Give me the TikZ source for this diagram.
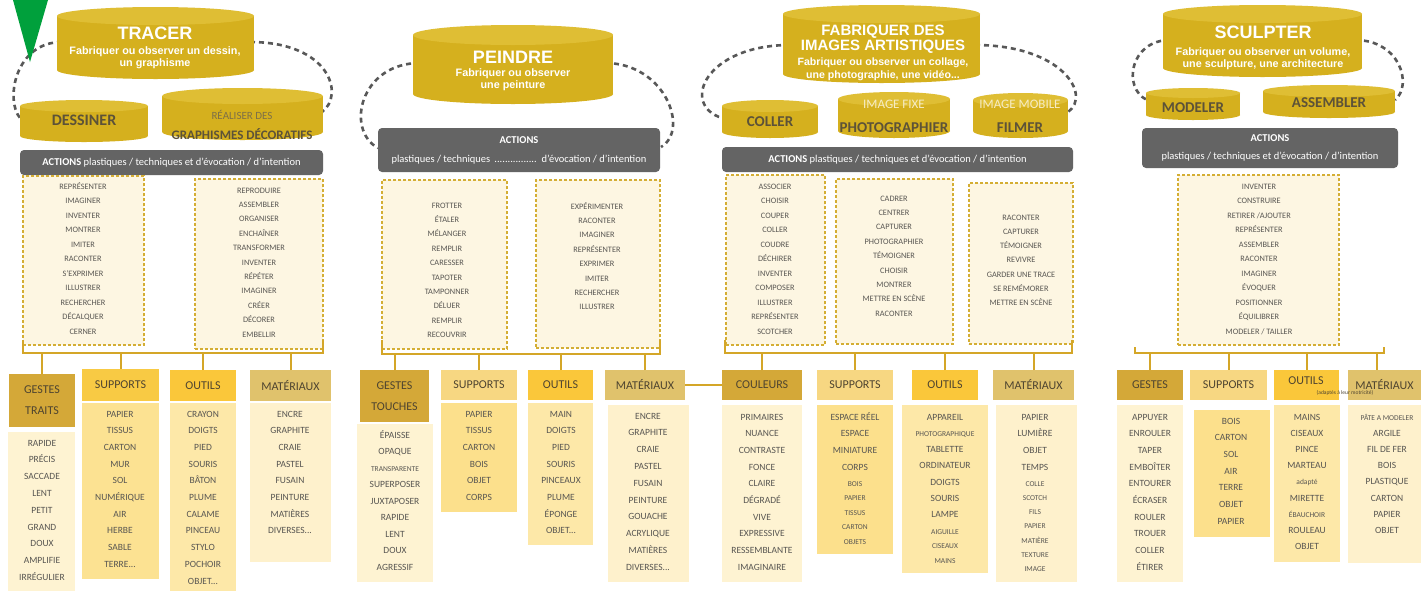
\documentclass[tikz,border=0pt]{standalone}
\usepackage{fontspec}
\setmainfont{Carlito}
\newfontfamily\arialf{Liberation Sans}
\usetikzlibrary{calc}
\definecolor{cylbody}{RGB}{213,176,30}
\definecolor{cyltop}{RGB}{223,190,52}
\definecolor{labdark}{RGB}{92,82,56}
\definecolor{lablight}{RGB}{246,236,196}
\definecolor{realgray}{RGB}{125,112,72}
\definecolor{actgray}{RGB}{100,100,100}
\definecolor{loopgray}{RGB}{88,88,88}
\definecolor{dgold}{RGB}{212,174,52}
\definecolor{dfill}{RGB}{253,246,226}
\definecolor{bgold}{RGB}{212,166,40}
\definecolor{gdark}{RGB}{212,168,56}
\definecolor{supA}{RGB}{248,202,68}
\definecolor{supB}{RGB}{247,215,130}
\definecolor{outc}{RGB}{250,199,58}
\definecolor{matc}{RGB}{224,194,108}
\definecolor{hdrtext}{RGB}{78,68,48}
\definecolor{lgest}{RGB}{254,243,210}
\definecolor{lsupA}{RGB}{252,226,146}
\definecolor{lsupB}{RGB}{252,224,140}
\definecolor{lout}{RGB}{253,232,168}
\definecolor{lmat}{RGB}{254,241,204}
\definecolor{itemgray}{RGB}{88,86,82}
\definecolor{trigreen}{RGB}{0,160,60}
\newcommand\mybox[7]{\node[#1, minimum width={(#5)-(#3)}, minimum height={(#6)-(#4)}, inner sep=0pt, outer sep=0pt] (#2) at ({((#3)+(#5))/2},{((#4)+(#6))/2}) {#7};}
\newcommand\mycyl[6]{%
 \fill[cylbody] ({((#2)+(#3))/2},#5) ellipse [x radius={((#3)-(#2))/2}, y radius=#6];
 \fill[cylbody] (#2,#4) rectangle (#3,#5);
 \fill[cyltop] ({((#2)+(#3))/2},#4) ellipse [x radius={((#3)-(#2))/2}, y radius=#6];
 \coordinate (#1) at ({((#2)+(#3))/2},{((#4)+(#5))/2});}
\newcommand\myitems[6]{\foreach \t [count=\i] in {#6} {\node[#5, anchor=base] (#1-\i) at (#2,{(#3)+3+(\i-1)*(#4)}) {\t};}}
\newcommand\sm{\fontsize{7.5}{9}\selectfont}
\newcommand\ddd{...}
\begin{document}
\begin{tikzpicture}[x=1pt,y=-1pt,
 cyltitle/.style={text=white, font=\arialf\bfseries\fontsize{18}{20}\selectfont, inner sep=0pt},
 cylsub/.style={text=white, font=\arialf\bfseries\fontsize{10.8}{12}\selectfont, align=center, inner sep=0pt},
 cyllab/.style={text=labdark, font=\bfseries\fontsize{15}{17}\selectfont, inner sep=0pt},
 cyllight/.style={text=lablight, font=\fontsize{13}{15}\selectfont, inner sep=0pt},
 actbar/.style={fill=actgray, rounded corners=4pt, text=white, align=center, font=\fontsize{10.5}{19}\selectfont},
 dbox/.style={draw=dgold, fill=dfill, dash pattern=on 3pt off 2pt, line width=1.2pt},
 brk/.style={draw=bgold, line width=2pt},
 ringdash/.style={draw=loopgray, line width=2.6pt, dash pattern=on 5pt off 4pt},
 hdr/.style={text=hdrtext, font=\fontsize{12}{21}\selectfont, align=center},
 lbg/.style={},
 ait/.style={text=itemgray, font=\fontsize{8.3}{10}\selectfont, inner sep=0pt},
 bit/.style={text=itemgray, font=\fontsize{9.5}{11}\selectfont, inner sep=0pt},
 smit/.style={text=itemgray, font=\fontsize{7.5}{9}\selectfont, inner sep=0pt}]
\useasboundingbox (0,0) rectangle (1421,590);
\fill[white] (0,0) rectangle (1421,590);

% ---------- dashed loops ----------
\coordinate (l1a) at (62,42); \coordinate (l1b) at (20,118);
\coordinate (r1a) at (250,42); \coordinate (r1b) at (322,112);
\draw[ringdash] (l1a) .. controls (15,42) and (5,100) .. (l1b);
\draw[ringdash] (r1a) .. controls (330,42) and (345,95) .. (r1b);
\coordinate (l2a) at (420,63); \coordinate (l2b) at (378,148);
\coordinate (r2a) at (605,63); \coordinate (r2b) at (661,147);
\draw[ringdash] (l2a) .. controls (360,63) and (345,130) .. (l2b);
\draw[ringdash] (r2a) .. controls (665,63) and (690,130) .. (r2b);
\coordinate (l3a) at (790,45); \coordinate (l3b) at (722,118);
\coordinate (r3a) at (975,45); \coordinate (r3b) at (1068,112);
\draw[ringdash] (l3a) .. controls (705,45) and (680,105) .. (l3b);
\draw[ringdash] (r3a) .. controls (1062,45) and (1092,95) .. (r3b);
\coordinate (l4a) at (1170,40); \coordinate (l4b) at (1147,100);
\coordinate (r4a) at (1355,40); \coordinate (r4b) at (1395,100);
\draw[ringdash] (l4a) .. controls (1130,40) and (1122,88) .. (l4b);
\draw[ringdash] (r4a) .. controls (1400,40) and (1413,85) .. (r4b);

% ---------- green marker ----------
\fill[trigreen] (13,0) -- (48,0) -- (30,62) -- cycle;

% ================= TRACER =================
\mycyl{tracer}{57}{254}{16}{70}{9}
\node[cyltitle] (tracerT) at (155,33) {TRACER};
\node[cylsub] (tracerS) at (155,57.5) {Fabriquer ou observer un dessin,\\un graphisme};
\mycyl{dessiner}{20}{148}{106}{136}{6}
\node[cyllab, font=\bfseries\fontsize{16}{18}\selectfont] (dessinerT) at (84,120) {DESSINER};
\mycyl{realiser}{162}{323}{96}{132}{8}
\node[inner sep=0pt, text=realgray, font=\fontsize{11}{13}\selectfont] (realiserT) at (242,115) {RÉALISER DES};
\node[cyllab, font=\bfseries\fontsize{13}{15}\selectfont] (realiserU) at (242,134) {GRAPHISMES DÉCORATIFS};
\mybox{actbar}{a1}{20}{150}{323}{175}{{\bfseries ACTIONS} plastiques / techniques et d'évocation / d'intention}
\mybox{dbox}{d1a}{23}{176}{144}{345}{}
\myitems{d1ai}{83}{186}{14.5}{ait}{REPRÉSENTER,IMAGINER,INVENTER,MONTRER,IMITER,RACONTER,S'EXPRIMER,ILLUSTRER,RECHERCHER,DÉCALQUER,CERNER}
\mybox{dbox}{d1b}{195}{179}{323}{349}{}
\myitems{d1bi}{259}{190}{14.4}{ait}{REPRODUIRE,ASSEMBLER,ORGANISER,ENCHAÎNER,TRANSFORMER,INVENTER,RÉPÉTER,IMAGINER,CRÉER,DÉCORER,EMBELLIR}
% headers
\mybox{hdr, fill=gdark}{g1}{9}{374}{75}{427}{GESTES\\TRAITS}
\mybox{hdr, fill=supA}{s1}{82}{369}{159}{401}{SUPPORTS}
\mybox{hdr, fill=outc}{o1}{170}{370}{236}{401}{OUTILS}
\mybox{hdr, fill=matc}{m1}{250}{370}{331}{401}{MATÉRIAUX}
\mybox{lbg, fill=lgest}{g1l}{8}{432}{75}{600}{}
\mybox{lbg, fill=lsupA}{s1l}{82}{403}{159}{579}{}
\mybox{lbg, fill=lout}{o1l}{170}{403}{236}{600}{}
\mybox{lbg, fill=lmat}{m1l}{250}{403}{331}{562}{}
\myitems{g1i}{42}{443}{16.8}{bit}{RAPIDE,PRÉCIS,SACCADE,LENT,PETIT,GRAND,DOUX,AMPLIFIE,IRRÉGULIER}
\myitems{s1i}{120}{414}{16.7}{bit}{PAPIER,TISSUS,CARTON,MUR,SOL,NUMÉRIQUE,AIR,HERBE,SABLE,TERRE\ddd}
\myitems{o1i}{203}{414}{16.7}{bit}{CRAYON,DOIGTS,PIED,SOURIS,BÂTON,PLUME,CALAME,PINCEAU,STYLO,POCHOIR,OBJET\ddd}
\myitems{m1i}{290}{414}{16.7}{bit}{ENCRE,GRAPHITE,CRAIE,PASTEL,FUSAIN,PEINTURE,MATIÈRES,DIVERSES\ddd}
% bracket
\coordinate (k1l) at (23,340); \coordinate (k1bl) at (23,353);
\coordinate (k1br) at (323,353); \coordinate (k1r) at (323,340);
\draw[brk] (k1l) -- (k1bl) -- (k1br) -- (k1r);
\foreach \h in {g1,s1,o1,m1} {\draw[brk] (\h.north) -- (\h.north |- k1bl);}

% ================= PEINDRE =================
\mycyl{peindre}{413}{613}{35}{94}{10}
\node[cyltitle] (peindreT) at (513,57) {PEINDRE};
\node[cylsub] (peindreS) at (513,80) {Fabriquer ou observer\\une peinture};
\mybox{actbar}{a2}{378}{128}{660}{172}{{\bfseries ACTIONS}\\plastiques / techniques \,................\, d'évocation / d'intention}
\mybox{dbox}{d2a}{382}{180}{507}{349}{}
\myitems{d2ai}{447}{205}{14.4}{ait}{FROTTER,ÉTALER,MÉLANGER,REMPLIR,CARESSER,TAPOTER,TAMPONNER,DÉLUER,REMPLIR,RECOUVRIR}
\mybox{dbox}{d2b}{536}{180}{660}{348}{}
\myitems{d2bi}{597}{206}{14.4}{ait}{EXPÉRIMENTER,RACONTER,IMAGINER,REPRÉSENTER,EXPRIMER,IMITER,RECHERCHER,ILLUSTRER}
\mybox{hdr, fill=gdark}{g2}{360}{370}{429}{422}{GESTES\\TOUCHES}
\mybox{hdr, fill=supB}{s2}{441}{370}{517}{400}{SUPPORTS}
\mybox{hdr, fill=outc}{o2}{528}{370}{593}{400}{OUTILS}
\mybox{hdr, fill=matc}{m2}{605}{370}{685}{400}{MATÉRIAUX}
\mybox{lbg, fill=lgest}{g2l}{357}{424}{433}{582}{}
\mybox{lbg, fill=lsupB}{s2l}{441}{403}{517}{512}{}
\mybox{lbg, fill=lout}{o2l}{528}{403}{593}{545}{}
\mybox{lbg, fill=lmat}{m2l}{608}{405}{689}{582}{}
\myitems{g2i}{395}{435}{16.5}{bit}{ÉPAISSE,OPAQUE,{\sm TRANSPARENTE},SUPERPOSER,JUXTAPOSER,RAPIDE,LENT,DOUX,AGRESSIF}
\myitems{s2i}{479}{414}{16.7}{bit}{PAPIER,TISSUS,CARTON,BOIS,OBJET,CORPS}
\myitems{o2i}{561}{414}{16.7}{bit}{MAIN,DOIGTS,PIED,SOURIS,PINCEAUX,PLUME,ÉPONGE,OBJET\ddd}
\myitems{m2i}{648}{416}{16.8}{bit}{ENCRE,GRAPHITE,CRAIE,PASTEL,FUSAIN,PEINTURE,GOUACHE,ACRYLIQUE,MATIÈRES,DIVERSES\ddd}
\coordinate (k2l) at (382,340); \coordinate (k2bl) at (382,354);
\coordinate (k2br) at (660,354); \coordinate (k2r) at (660,340);
\draw[brk] (k2l) -- (k2bl) -- (k2br) -- (k2r);
\foreach \h in {g2,s2,o2,m2} {\draw[brk] (\h.north) -- (\h.north |- k2bl);}

% ================= IMAGES ARTISTIQUES =================
\mycyl{fabriquer}{783}{980}{14}{74}{9}
\node[cyltitle, font=\arialf\bfseries\fontsize{15}{15}\selectfont, align=center] (fabriquerT) at (883,39.5) {FABRIQUER DES\\IMAGES ARTISTIQUES};
\node[cylsub, font=\arialf\bfseries\fontsize{10.6}{13}\selectfont] (fabriquerS) at (883,69.5) {Fabriquer ou observer un collage,\\une photographie, une vidéo...};
\mycyl{coller}{722}{818}{106}{132}{6}
\node[cyllab] (collerT) at (770,122) {COLLER};
\mycyl{fixe}{838}{950}{99}{131}{7}
\node[cyllight] (fixeT) at (894,104) {IMAGE FIXE};
\node[cyllab] (fixeU) at (894,128) {PHOTOGRAPHIER};
\mycyl{mobile}{973}{1068}{100}{131}{7}
\node[cyllight] (mobileT) at (1020,104) {IMAGE MOBILE};
\node[cyllab] (mobileU) at (1020,128) {FILMER};
\mybox{actbar}{a3}{722}{147}{1073}{172}{{\bfseries ACTIONS} plastiques / techniques et d'évocation / d'intention}
\mybox{dbox}{d3a}{726}{175}{825}{345}{}
\myitems{d3ai}{775}{186}{14.5}{ait}{ASSOCIER,CHOISIR,COUPER,COLLER,COUDRE,DÉCHIRER,INVENTER,COMPOSER,ILLUSTRER,REPRÉSENTER,SCOTCHER}
\mybox{dbox}{d3b}{836}{179}{953}{344}{}
\myitems{d3bi}{894}{198}{14.4}{ait}{CADRER,CENTRER,CAPTURER,PHOTOGRAPHIER,TÉMOIGNER,CHOISIR,MONTRER,METTRE EN SCÈNE,RACONTER}
\mybox{dbox}{d3c}{969}{183}{1073}{344}{}
\myitems{d3ci}{1021}{217}{14.3}{ait}{RACONTER,CAPTURER,TÉMOIGNER,REVIVRE,GARDER UNE TRACE,SE REMÉMORER,METTRE EN SCÈNE}
\mybox{hdr, fill=gdark}{c3}{722}{370}{802}{400}{COULEURS}
\mybox{hdr, fill=supB}{s3}{817}{370}{893}{400}{SUPPORTS}
\mybox{hdr, fill=outc}{o3}{912}{370}{978}{400}{OUTILS}
\mybox{hdr, fill=matc}{m3}{993}{370}{1074}{400}{MATÉRIAUX}
\mybox{lbg, fill=lgest}{c3l}{722}{405}{802}{582}{}
\mybox{lbg, fill=lsupB}{s3l}{817}{405}{893}{554}{}
\mybox{lbg, fill=lout}{o3l}{902}{405}{988}{573}{}
\mybox{lbg, fill=lmat}{m3l}{996}{405}{1077}{582}{}
\myitems{c3i}{762}{417}{16.7}{bit}{PRIMAIRES,NUANCE,CONTRASTE,FONCE,CLAIRE,DÉGRADÉ,VIVE,EXPRESSIVE,RESSEMBLANTE,IMAGINAIRE}
\myitems{s3i}{855}{417}{16.7}{bit}{ESPACE RÉEL,ESPACE,MINIATURE,CORPS}
\myitems{s3j}{855}{483}{14.5}{smit}{BOIS,PAPIER,TISSUS,CARTON,OBJETS}
\myitems{o3i}{945}{417}{16.3}{bit}{APPAREIL,{\sm PHOTOGRAPHIQUE},TABLETTE,ORDINATEUR,DOIGTS,SOURIS,LAMPE}
\myitems{o3j}{945}{531}{14.5}{smit}{AIGUILLE,CISEAUX,MAINS}
\myitems{m3i}{1035}{417}{16.7}{bit}{PAPIER,LUMIÈRE,OBJET,TEMPS}
\myitems{m3j}{1035}{483}{14.3}{smit}{COLLE,SCOTCH,FILS,PAPIER,MATIÈRE,TEXTURE,IMAGE}
\coordinate (k3l) at (725,340); \coordinate (k3bl) at (725,353);
\coordinate (k3br) at (1072,353); \coordinate (k3r) at (1072,340);
\draw[brk] (k3l) -- (k3bl) -- (k3br) -- (k3r);
\foreach \h in {c3,s3,o3,m3} {\draw[brk] (\h.north) -- (\h.north |- k3bl);}
\draw[brk] (m2.east) -- (c3.west);

% ================= SCULPTER =================
\mycyl{sculpter}{1163}{1362}{14}{68}{9}
\node[cyltitle] (sculpterT) at (1263,32) {SCULPTER};
\node[cylsub] (sculpterS) at (1263,58.5) {Fabriquer ou observer un volume,\\une sculpture, une architecture};
\mycyl{modeler}{1146}{1240}{93}{115}{5}
\node[cyllab] (modelerT) at (1193,108) {MODELER};
\mycyl{assembler}{1263}{1395}{91}{112}{6}
\node[cyllab] (assemblerT) at (1329,103) {ASSEMBLER};
\mybox{actbar, font=\fontsize{10.5}{18}\selectfont}{a4}{1142}{128}{1398}{168}{{\bfseries ACTIONS}\\plastiques / techniques et d'évocation / d'intention}
\mybox{dbox}{d4}{1178}{175}{1339}{345}{}
\myitems{d4i}{1259}{186}{14.5}{ait}{INVENTER,CONSTRUIRE,RETIRER /AJOUTER,REPRÉSENTER,ASSEMBLER,RACONTER,IMAGINER,ÉVOQUER,POSITIONNER,ÉQUILIBRER,MODELER / TAILLER}
\mybox{hdr, fill=gdark}{g4}{1117}{370}{1183}{400}{GESTES}
\mybox{hdr, fill=supB}{s4}{1190}{370}{1267}{400}{SUPPORTS}
\mybox{hdr, fill=outc}{o4}{1274}{370}{1339}{400}{}
\mybox{hdr, fill=matc}{m4}{1348}{370}{1421}{400}{MATÉRIAUX}
\node[hdr, inner sep=0pt] (o4t) at (1306,381) {OUTILS};
\node[inner sep=0pt, text=hdrtext, font=\fontsize{5.5}{6}\selectfont] (o4n) at (1345,393) {(adaptés à leur motricité)};
\mybox{lbg, fill=lgest}{g4l}{1117}{405}{1183}{582}{}
\mybox{lbg, fill=lsupB}{s4l}{1194}{410}{1270}{537}{}
\mybox{lbg, fill=lout}{o4l}{1274}{405}{1340}{562}{}
\mybox{lbg, fill=lmat}{m4l}{1348}{405}{1421}{563}{}
\myitems{g4i}{1150}{417}{16.7}{bit}{APPUYER,ENROULER,TAPER,EMBOÎTER,ENTOURER,ÉCRASER,ROULER,TROUER,COLLER,ÉTIRER}
\myitems{s4i}{1231}{421}{16.7}{bit}{BOIS,CARTON,SOL,AIR,TERRE,OBJET,PAPIER}
\myitems{o4i}{1307}{417}{16.2}{bit}{MAINS,CISEAUX,PINCE,MARTEAU,{\sm adapté},MIRETTE,{\sm ÉBAUCHOIR},ROULEAU,OBJET}
\myitems{m4i}{1387}{417}{16.2}{bit}{{\sm PÂTE A MODELER},ARGILE,FIL DE FER,BOIS,PLASTIQUE,CARTON,PAPIER,OBJET}
\coordinate (k4l) at (1135,347); \coordinate (k4bl) at (1135,353);
\coordinate (k4br) at (1384,353); \coordinate (k4r) at (1384,347);
\draw[brk] (k4l) -- (k4bl) -- (k4br) -- (k4r);
\coordinate (m4d) at ($(m4.north)+(-8,0)$);
\foreach \h in {g4,s4,o4,m4d} {\draw[brk] (\h |- k4bl) -- (\h |- m4.north);}
\end{tikzpicture}
\end{document}
